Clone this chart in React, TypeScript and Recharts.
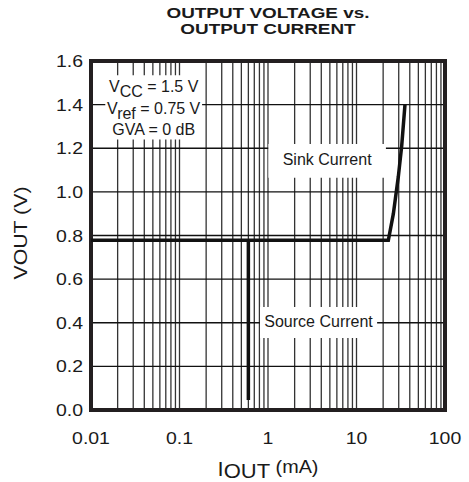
import React from 'react';
import { LineChart, Line, XAxis, YAxis, CartesianGrid, ReferenceArea } from 'recharts';

const FONT = "'Liberation Sans', Arial, Helvetica, sans-serif";
const INK = '#1a1a1a';

// log grid: every 1..9 step of each decade
const gridCurrents = [
  0.01, 0.02, 0.03, 0.04, 0.05, 0.06, 0.07, 0.08, 0.09,
  0.1, 0.2, 0.3, 0.4, 0.5, 0.6, 0.7, 0.8, 0.9,
  1, 2, 3, 4, 5, 6, 7, 8, 9,
  10, 20, 30, 40, 50, 60, 70, 80, 90,
  100,
];
const labelledCurrents = [0.01, 0.1, 1, 10, 100];
const voltageTicks = [0, 0.2, 0.4, 0.6, 0.8, 1.0, 1.2, 1.4, 1.6];

// sink branch (flat, then rising)
const sinkCurrent = [0.01, 22.9, 26.1, 29.7, 32.4, 35.3];
const sinkVoltage = [0.778, 0.778, 0.9, 1.07, 1.21, 1.4];

// source branch (drops straight down)
const sourceCurrent = [0.6, 0.6];
const sourceVoltage = [0.778, 0.046];

const sinkData = sinkCurrent.map((i, k) => ({ i, v: sinkVoltage[k] }));
const sourceData = sourceCurrent.map((i, k) => ({ i, v: sourceVoltage[k] }));

type Seg = { t: string; sub?: boolean };

function NoteLabel(props: any) {
  const { viewBox, lines, baselines } = props;
  const { x, y, width } = viewBox;
  const cx = x + width / 2;
  return (
    <g>
      {lines.map((segs: Seg[], n: number) => {
        let shift = 0;
        return (
          <text key={n} x={cx} y={y + baselines[n]} textAnchor="middle" fill={INK} fontFamily={FONT} fontSize={16}>
            {segs.map((s, k) => {
              const target = s.sub ? 5 : 0;
              const dy = target - shift;
              shift = target;
              return (
                <tspan key={k} dy={dy}>
                  {s.t}
                </tspan>
              );
            })}
          </text>
        );
      })}
    </g>
  );
}

// tick text a bit wider than the font, like the scanned original
function StretchTick(props: any) {
  const { x, y, payload, anchor, dy, tickFormatter } = props;
  const label = tickFormatter ? tickFormatter(payload.value) : String(payload.value);
  if (!label) return null;
  return (
    <text
      transform={`translate(${x},${y}) scale(1.18,1)`}
      dy={dy}
      textAnchor={anchor}
      fill={INK}
      fontFamily={FONT}
      fontSize={16.5}
    >
      {label}
    </text>
  );
}

function XTitle(props: any) {
  const { x, y, width } = props.viewBox;
  return (
    <text
      transform={`translate(${x + width / 2},${y + 66}) scale(1.1,1)`}
      textAnchor="middle"
      fill={INK}
      fontFamily={FONT}
      fontSize={20}
    >
      I<tspan dy={2}>OUT</tspan>
      <tspan dy={-5} fontSize={18}> (mA)</tspan>
    </text>
  );
}

function YTitle() {
  return (
    <text
      transform="translate(27,233) rotate(-90) scale(1.15,1)"
      textAnchor="middle"
      fill={INK}
      fontFamily={FONT}
      fontSize={18.5}
    >
      VOUT (V)
    </text>
  );
}

const fmtCurrent = (v: number) => (labelledCurrents.includes(v) ? String(v) : '');
const fmtVoltage = (v: number) => v.toFixed(1);

export default function App() {
  return (
    <div style={{ position: 'absolute', left: 0, top: 0, width: 469, height: 482, background: '#fff' }}>
      <div
        style={{
          position: 'absolute',
          left: 91,
          top: 5,
          width: 354,
          textAlign: 'center',
          fontFamily: FONT,
          fontWeight: 'bold',
          fontSize: 15,
          lineHeight: '16px',
          color: INK,
          transform: 'scaleX(1.26)',
          transformOrigin: '50% 0',
          whiteSpace: 'nowrap',
        }}
      >
        OUTPUT VOLTAGE vs.
        <br />
        OUTPUT CURRENT
      </div>
      <LineChart width={469} height={482} margin={{ top: 61, right: 24, left: 0, bottom: 0 }}>
        <CartesianGrid horizontal={false} stroke="#333" strokeWidth={1.3} />
        <CartesianGrid vertical={false} stroke="#111" strokeWidth={1.3} />
        <XAxis
          type="number"
          dataKey="i"
          scale="log"
          domain={[0.01, 100]}
          ticks={gridCurrents}
          interval={0}
          allowDataOverflow
          tickLine={false}
          axisLine={false}
          height={72}
          tickFormatter={fmtCurrent}
          tick={<StretchTick anchor="middle" dy={26} tickFormatter={fmtCurrent} />}
          label={<XTitle />}
        />
        <YAxis
          type="number"
          dataKey="v"
          domain={[0, 1.6]}
          ticks={voltageTicks}
          interval={0}
          allowDataOverflow
          tickLine={false}
          axisLine={false}
          width={91}
          tickFormatter={fmtVoltage}
          tick={<StretchTick anchor="end" dy={6} tickFormatter={fmtVoltage} />}
          label={<YTitle />}
        />
        <ReferenceArea
          x1={0.0145}
          x2={0.18}
          y1={1.24}
          y2={1.535}
          fill="#fff"
          fillOpacity={1}
          stroke="none"
          ifOverflow="visible"
          label={
            <NoteLabel
              baselines={[17, 39, 60]}
              lines={[
                [{ t: 'V' }, { t: 'CC', sub: true }, { t: ' = 1.5 V' }],
                [{ t: 'V' }, { t: 'ref', sub: true }, { t: ' = 0.75 V' }],
                [{ t: 'GVA = 0 dB' }],
              ]}
            />
          }
        />
        <ReferenceArea
          x1={1.01}
          x2={21.5}
          y1={1.065}
          y2={1.22}
          fill="#fff"
          fillOpacity={1}
          stroke="none"
          ifOverflow="visible"
          label={<NoteLabel baselines={[21]} lines={[[{ t: 'Sink Current' }]]} />}
        />
        <ReferenceArea
          x1={0.812}
          x2={17.1}
          y1={0.33}
          y2={0.472}
          fill="#fff"
          fillOpacity={1}
          stroke="none"
          ifOverflow="visible"
          label={<NoteLabel baselines={[20]} lines={[[{ t: 'Source Current' }]]} />}
        />
        <Line
          data={sinkData}
          dataKey="v"
          type="linear"
          stroke="#111"
          strokeWidth={3.5}
          dot={false}
          isAnimationActive={false}
        />
        <Line
          data={sourceData}
          dataKey="v"
          type="linear"
          stroke="#111"
          strokeWidth={3.5}
          dot={false}
          isAnimationActive={false}
        />
        <ReferenceArea
          x1={0.01}
          x2={100}
          y1={0}
          y2={1.6}
          fill="none"
          stroke="#231f20"
          strokeWidth={4}
          ifOverflow="visible"
        />
      </LineChart>
    </div>
  );
}
